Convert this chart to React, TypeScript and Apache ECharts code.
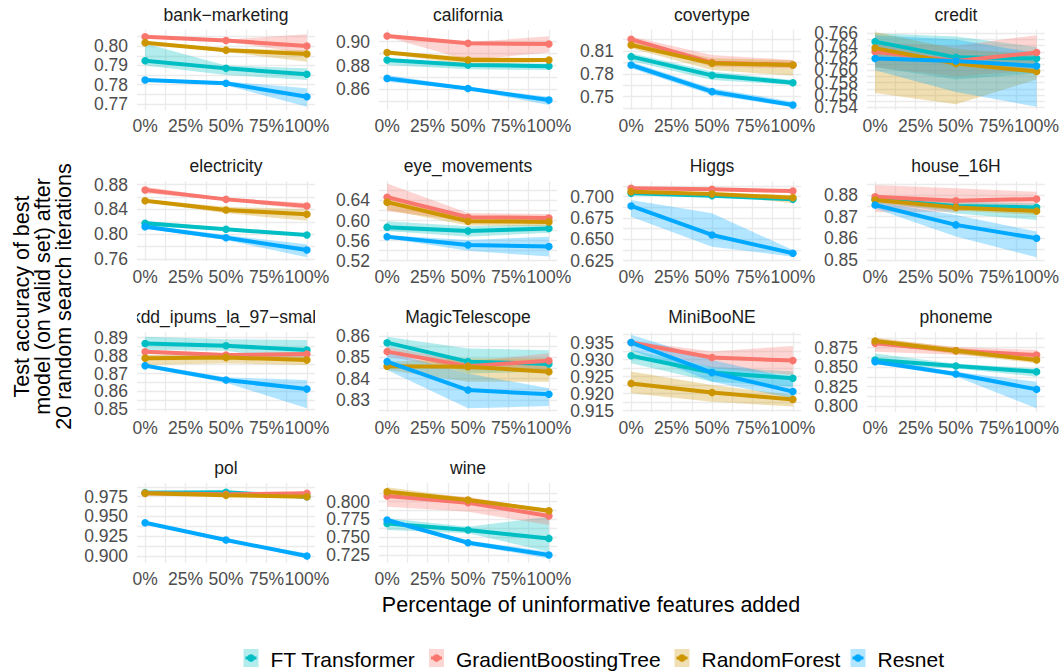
import React, { useEffect, useRef } from 'react';
import * as echarts from 'echarts';

const FONT = '"Liberation Sans", Arial, Helvetica, sans-serif';

// ---------- categories ----------
const models = ['FT Transformer', 'GradientBoostingTree', 'RandomForest', 'Resnet'];
const colors = ['#00BFC4', '#F8766D', '#CD9600', '#00A9FF'];
const pcts = [0, 50, 100];
const xTicks = [0, 25, 50, 75, 100];
const xMinor = [12.5, 37.5, 62.5, 87.5];

// ---------- data: rows = [FT Transformer, GradientBoostingTree, RandomForest, Resnet], cols = 0%, 50%, 100% ----------
const bankMean = [[0.7925, 0.7885, 0.7854], [0.8050, 0.8030, 0.8002], [0.8019, 0.7980, 0.7960], [0.7824, 0.7807, 0.7737]];
const bankLo = [[0.7900, 0.7850, 0.7825], [0.8045, 0.8025, 0.7963], [0.8014, 0.7970, 0.7920], [0.7819, 0.7797, 0.7685]];
const bankHi = [[0.8015, 0.7900, 0.7885], [0.8055, 0.8035, 0.8063], [0.8024, 0.7990, 0.7980], [0.7829, 0.7817, 0.7781]];
const bankTicks = [0.77, 0.78, 0.79, 0.80];

const califMean = [[0.8846, 0.8804, 0.8795], [0.9048, 0.8986, 0.8980], [0.8910, 0.8846, 0.8846], [0.8692, 0.8608, 0.8510]];
const califLo = [[0.8804, 0.8768, 0.8762], [0.9040, 0.8845, 0.8910], [0.8900, 0.8804, 0.8830], [0.8664, 0.8598, 0.8468]];
const califHi = [[0.8860, 0.8820, 0.8818], [0.9056, 0.8995, 0.9045], [0.8920, 0.8874, 0.8860], [0.8720, 0.8618, 0.8538]];
const califTicks = [0.86, 0.88, 0.90];

const coverMean = [[0.8026, 0.7780, 0.7684], [0.8253, 0.7947, 0.7916], [0.8179, 0.7938, 0.7916], [0.7916, 0.7566, 0.7390]];
const coverLo = [[0.7970, 0.7720, 0.7653], [0.8210, 0.7894, 0.7872], [0.8135, 0.7850, 0.7774], [0.7873, 0.7522, 0.7362]];
const coverHi = [[0.8070, 0.7830, 0.7720], [0.8290, 0.8047, 0.7982], [0.8223, 0.8004, 0.7980], [0.7960, 0.7610, 0.7435]];
const coverTicks = [0.75, 0.78, 0.81];

const creditMean = [[0.76465, 0.7621, 0.7619], [0.7630, 0.7615, 0.7629], [0.7636, 0.7611, 0.7598], [0.7619, 0.7615, 0.7607]];
const creditLo = [[0.7605, 0.7585, 0.7595], [0.7605, 0.7590, 0.7600], [0.7563, 0.7545, 0.7585], [0.7600, 0.7565, 0.7541]];
const creditHi = [[0.7660, 0.7655, 0.7638], [0.7645, 0.7640, 0.7657], [0.7662, 0.7635, 0.7625], [0.7657, 0.7650, 0.7628]];
const creditTicks = [0.754, 0.756, 0.758, 0.760, 0.762, 0.764, 0.766];

const elecMean = [[0.8176, 0.8079, 0.7987], [0.8714, 0.8563, 0.8456], [0.8542, 0.8391, 0.8321], [0.8122, 0.7944, 0.7745]];
const elecLo = [[0.8133, 0.8059, 0.7967], [0.8660, 0.8543, 0.8402], [0.8522, 0.8337, 0.8219], [0.8092, 0.7907, 0.7627]];
const elecHi = [[0.8219, 0.8099, 0.8007], [0.8768, 0.8583, 0.8510], [0.8562, 0.8445, 0.8402], [0.8152, 0.7987, 0.7837]];
const elecTicks = [0.76, 0.80, 0.84, 0.88];

const eyeMean = [[0.5869, 0.5790, 0.5843], [0.6466, 0.6066, 0.6052], [0.6367, 0.5987, 0.5974], [0.5679, 0.5515, 0.5482]];
const eyeLo = [[0.5790, 0.5679, 0.5757], [0.6184, 0.5987, 0.5967], [0.6216, 0.5902, 0.5889], [0.5649, 0.5397, 0.5285]];
const eyeHi = [[0.5987, 0.5889, 0.5921], [0.6740, 0.6150, 0.6131], [0.6511, 0.6085, 0.6052], [0.5709, 0.5613, 0.5679]];
const eyeTicks = [0.52, 0.56, 0.60, 0.64];

const higgsMean = [[0.7039, 0.7012, 0.6969], [0.7098, 0.7086, 0.7066], [0.7059, 0.7031, 0.6988], [0.6891, 0.6551, 0.6336]];
const higgsLo = [[0.7024, 0.6997, 0.6954], [0.7088, 0.7076, 0.7056], [0.7049, 0.7021, 0.6922], [0.6766, 0.6414, 0.6297]];
const higgsHi = [[0.7054, 0.7027, 0.6984], [0.7108, 0.7096, 0.7076], [0.7069, 0.7041, 0.7020], [0.6961, 0.6805, 0.6375]];
const higgsTicks = [0.625, 0.650, 0.675, 0.700];

const houseMean = [[0.8780, 0.8749, 0.8743], [0.8792, 0.8774, 0.8782], [0.8777, 0.8743, 0.8726], [0.8754, 0.8662, 0.8600]];
const houseLo = [[0.8770, 0.8715, 0.8685], [0.8720, 0.8723, 0.8754], [0.8762, 0.8728, 0.8708], [0.8738, 0.8608, 0.8512]];
const houseHi = [[0.8790, 0.8769, 0.8762], [0.8846, 0.8831, 0.8815], [0.8792, 0.8758, 0.8746], [0.8769, 0.8708, 0.8631]];
const houseTicks = [0.85, 0.86, 0.87, 0.88];

const kddMean = [[0.8868, 0.8855, 0.8831], [0.8822, 0.8803, 0.8809], [0.8785, 0.8790, 0.8775], [0.8744, 0.8664, 0.8613]];
const kddLo = [[0.8831, 0.8827, 0.8766], [0.8812, 0.8793, 0.8785], [0.8747, 0.8757, 0.8747], [0.8734, 0.8649, 0.8506]];
const kddHi = [[0.8906, 0.8891, 0.8887], [0.8832, 0.8813, 0.8822], [0.8803, 0.8803, 0.8794], [0.8754, 0.8679, 0.8664]];
const kddTicks = [0.85, 0.86, 0.87, 0.88, 0.89];

const magicMean = [[0.8569, 0.8480, 0.8469], [0.8527, 0.8459, 0.8484], [0.8459, 0.8456, 0.8433], [0.8480, 0.8347, 0.8327]];
const magicLo = [[0.8542, 0.8425, 0.8433], [0.8503, 0.8440, 0.8441], [0.8441, 0.8386, 0.8386], [0.8441, 0.8261, 0.8272]];
const magicHi = [[0.8597, 0.8542, 0.8534], [0.8550, 0.8480, 0.8519], [0.8480, 0.8495, 0.8495], [0.8527, 0.8425, 0.8355]];
const magicTicks = [0.83, 0.84, 0.85, 0.86];

const booneMean = [[0.9311, 0.9262, 0.9245], [0.9350, 0.9306, 0.9297], [0.9230, 0.9203, 0.9183], [0.9350, 0.9262, 0.9206]];
const booneLo = [[0.9289, 0.9235, 0.9220], [0.9345, 0.9275, 0.9255], [0.9201, 0.9176, 0.9162], [0.9328, 0.9235, 0.9186]];
const booneHi = [[0.9328, 0.9279, 0.9265], [0.9355, 0.9324, 0.9340], [0.9265, 0.9225, 0.9196], [0.9373, 0.9299, 0.9245]];
const booneTicks = [0.915, 0.920, 0.925, 0.930, 0.935];

const phonMean = [[0.8591, 0.8514, 0.8441], [0.8806, 0.8711, 0.8656], [0.8836, 0.8711, 0.8591], [0.8570, 0.8411, 0.8214]];
const phonLo = [[0.8527, 0.8484, 0.8377], [0.8699, 0.8660, 0.8600], [0.8793, 0.8669, 0.8549], [0.8540, 0.8381, 0.7970]];
const phonHi = [[0.8677, 0.8544, 0.8484], [0.8870, 0.8760, 0.8720], [0.8879, 0.8754, 0.8634], [0.8600, 0.8441, 0.8313]];
const phonTicks = [0.800, 0.825, 0.850, 0.875];

const polMean = [[0.9801, 0.9805, 0.9750], [0.9792, 0.9780, 0.9792], [0.9792, 0.9767, 0.9750], [0.9421, 0.9202, 0.9000]];
const polLo = [[0.9790, 0.9795, 0.9720], [0.9782, 0.9770, 0.9782], [0.9782, 0.9757, 0.9740], [0.9411, 0.9192, 0.8970]];
const polHi = [[0.9830, 0.9815, 0.9780], [0.9802, 0.9790, 0.9802], [0.9802, 0.9777, 0.9760], [0.9431, 0.9212, 0.9034]];
const polTicks = [0.900, 0.925, 0.950, 0.975];

const wineMean = [[0.7695, 0.7601, 0.7484], [0.8080, 0.7986, 0.7798], [0.8141, 0.8023, 0.7873], [0.7742, 0.7423, 0.7250]];
const wineLo = [[0.7601, 0.7555, 0.7297], [0.7930, 0.7859, 0.7672], [0.8070, 0.7993, 0.7853], [0.7712, 0.7393, 0.7203]];
const wineHi = [[0.7766, 0.7648, 0.7789], [0.8141, 0.8070, 0.7883], [0.8202, 0.8053, 0.7893], [0.7772, 0.7453, 0.7297]];
const wineTicks = [0.725, 0.750, 0.775, 0.800];

type Panel = { name: string; mean: number[][]; lo: number[][]; hi: number[][]; ticks: number[]; range: number[]; dec: number };

const panels: Panel[] = [
  { name: 'bank\u2212marketing', mean: bankMean, lo: bankLo, hi: bankHi, ticks: bankTicks, range: [0.7668, 0.8085], dec: 2 },
  { name: 'california', mean: califMean, lo: califLo, hi: califHi, ticks: califTicks, range: [0.8427, 0.9098], dec: 2 },
  { name: 'covertype', mean: coverMean, lo: coverLo, hi: coverHi, ticks: coverTicks, range: [0.7325, 0.8376], dec: 2 },
  { name: 'credit', mean: creditMean, lo: creditLo, hi: creditHi, ticks: creditTicks, range: [0.75356, 0.76654], dec: 3 },
  { name: 'electricity', mean: elecMean, lo: elecLo, hi: elecHi, ticks: elecTicks, range: [0.7567, 0.886], dec: 2 },
  { name: 'eye_movements', mean: eyeMean, lo: eyeLo, hi: eyeHi, ticks: eyeTicks, range: [0.5195, 0.6788], dec: 2 },
  { name: 'Higgs', mean: higgsMean, lo: higgsLo, hi: higgsHi, ticks: higgsTicks, range: [0.6246, 0.7184], dec: 3 },
  { name: 'house_16H', mean: houseMean, lo: houseLo, hi: houseHi, ticks: houseTicks, range: [0.8495, 0.8865], dec: 2 },
  { name: 'kdd_ipums_la_97\u2212small', mean: kddMean, lo: kddLo, hi: kddHi, ticks: kddTicks, range: [0.8485, 0.8932], dec: 2 },
  { name: 'MagicTelescope', mean: magicMean, lo: magicLo, hi: magicHi, ticks: magicTicks, range: [0.8244, 0.8619], dec: 2 },
  { name: 'MiniBooNE', mean: booneMean, lo: booneLo, hi: booneHi, ticks: booneTicks, range: [0.9146, 0.9381], dec: 3 },
  { name: 'phoneme', mean: phonMean, lo: phonLo, hi: phonHi, ticks: phonTicks, range: [0.7923, 0.8952], dec: 3 },
  { name: 'pol', mean: polMean, lo: polLo, hi: polHi, ticks: polTicks, range: [0.8912, 0.9923], dec: 3 },
  { name: 'wine', mean: wineMean, lo: wineLo, hi: wineHi, ticks: wineTicks, range: [0.7138, 0.8263], dec: 3 },
];

// ---------- layout ----------
const COL_LEFT = [137, 379, 623, 867];
const ROW_TOP = [30, 181, 332, 483];
const PANEL_W = 178;
const PANEL_H = 80;
const LEGEND_X = [243.5, 429, 674.5, 850.5];

const rgba = (hex: string, a: number) => {
  const n = parseInt(hex.slice(1), 16);
  return `rgba(${(n >> 16) & 255},${(n >> 8) & 255},${n & 255},${a})`;
};

const gridLine = { show: true, lineStyle: { color: '#EBEBEB', width: 1.3 } };
const tickText = { color: '#4D4D4D', fontSize: 17.5, fontFamily: FONT };

function minorValues(ticks: number[], range: number[]) {
  const step = ticks.length > 1 ? ticks[1] - ticks[0] : 0.01;
  const out: number[] = [];
  for (let v = ticks[0] - step / 2; v <= ticks[ticks.length - 1] + step; v += step) {
    if (v >= range[0] && v <= range[1]) out.push(+v.toFixed(6));
  }
  return out;
}

function buildOption() {
  const grid: any[] = [];
  const xAxis: any[] = [];
  const yAxis: any[] = [];
  const yAxisAlt: any[] = [];
  const series: any[] = [];
  const graphic: any[] = [];

  panels.forEach((p, pi) => {
    const col = pi % 4;
    const row = Math.floor(pi / 4);
    grid.push({ left: COL_LEFT[col], top: ROW_TOP[row], width: PANEL_W, height: PANEL_H, containLabel: false });
    xAxis.push({
      type: 'value', gridIndex: pi, min: -5, max: 105,
      axisLine: { show: false },
      axisTick: { show: false, customValues: [...xTicks, ...xMinor].sort((a, b) => a - b) },
      axisLabel: {
        ...tickText, customValues: xTicks, margin: 7, interval: 0,
        showMinLabel: true, showMaxLabel: true, hideOverlap: false,
        formatter: (v: number) => `${v}%`,
      },
      splitLine: gridLine,
    });
    const minors = minorValues(p.ticks, p.range);
    const evenTicks = p.ticks.filter((_, i) => i % 2 === 0);
    const oddTicks = p.ticks.filter((_, i) => i % 2 === 1);
    // primary axis: grid lines + every other label
    yAxis.push({
      type: 'value', gridIndex: pi, position: 'left', min: p.range[0], max: p.range[1],
      axisLine: { show: false },
      axisTick: { show: false, customValues: [...p.ticks, ...minors].sort((a, b) => a - b) },
      axisLabel: {
        ...tickText, customValues: evenTicks, margin: 9, interval: 0,
        showMinLabel: true, showMaxLabel: true, hideOverlap: false,
        formatter: (v: number) => v.toFixed(p.dec),
      },
      splitLine: gridLine,
    });
    // companion axis on the same side: the remaining labels (keeps tightly-packed labels from being dropped)
    yAxisAlt.push({
      type: 'value', gridIndex: pi, position: 'left', offset: 0, min: p.range[0], max: p.range[1],
      axisLine: { show: false },
      axisTick: { show: false, customValues: oddTicks.length ? oddTicks : [p.ticks[0]] },
      axisLabel: {
        ...tickText, show: oddTicks.length > 0, customValues: oddTicks.length ? oddTicks : [p.ticks[0]], margin: 9, interval: 0,
        showMinLabel: true, showMaxLabel: true, hideOverlap: false,
        formatter: (v: number) => v.toFixed(p.dec),
      },
      splitLine: { show: false },
    });
    // strip title
    graphic.push({
      type: 'text', x: COL_LEFT[col] + PANEL_W / 2, y: ROW_TOP[row] - 15.5, z: 10,
      style: { text: p.name, align: 'center', verticalAlign: 'middle', fontSize: 17.5, fontFamily: FONT, fill: '#1A1A1A' },
    });
  });

  // ribbons first
  panels.forEach((p, pi) => {
    models.forEach((m, mi) => {
      series.push({
        type: 'custom', xAxisIndex: pi, yAxisIndex: pi, z: 1, silent: true, clip: true,
        data: pcts.map((x, k) => [x, p.lo[mi][k], p.hi[mi][k]]),
        encode: { x: 0, y: [1, 2] },
        renderItem: (params: any, api: any) => {
          if (params.dataIndex !== 0) return null;
          const lower = pcts.map((x, k) => api.coord([x, p.lo[mi][k]]));
          const upper = pcts.map((x, k) => api.coord([x, p.hi[mi][k]])).reverse();
          return {
            type: 'polygon',
            shape: { points: lower.concat(upper) },
            style: { fill: rgba(colors[mi], 0.3), stroke: 'none' },
          };
        },
      });
    });
  });

  // lines + points
  panels.forEach((p, pi) => {
    models.forEach((m, mi) => {
      series.push({
        type: 'line', name: m, xAxisIndex: pi, yAxisIndex: pi, z: 3, silent: true,
        data: pcts.map((x, k) => [x, p.mean[mi][k]]),
        symbol: 'circle', symbolSize: 7.5, showSymbol: true,
        lineStyle: { color: colors[mi], width: 4 },
        itemStyle: { color: colors[mi], borderWidth: 0 },
      });
    });
  });

  // clip the overflowing strip title (kdd) like ggplot's strip
  const kddIdx = 8;
  const kc = kddIdx % 4;
  const kr = Math.floor(kddIdx / 4);
  graphic.push({ type: 'rect', z: 20, shape: { x: COL_LEFT[kc] - 30, y: ROW_TOP[kr] - 28, width: 30, height: 25 }, style: { fill: '#FFFFFF' } });
  graphic.push({ type: 'rect', z: 20, shape: { x: COL_LEFT[kc] + PANEL_W, y: ROW_TOP[kr] - 28, width: 30, height: 25 }, style: { fill: '#FFFFFF' } });

  // axis titles
  graphic.push({
    type: 'text', x: (COL_LEFT[0] + COL_LEFT[3] + PANEL_W) / 2, y: 605, z: 10,
    style: { text: 'Percentage of uninformative features added', align: 'center', verticalAlign: 'middle', fontSize: 21.5, fontFamily: FONT, fill: '#000000' },
  });
  graphic.push({
    type: 'text', x: 43, y: (ROW_TOP[0] + ROW_TOP[3] + PANEL_H) / 2, rotation: Math.PI / 2, z: 10,
    style: {
      text: 'Test accuracy of best\nmodel (on valid set) after\n20 random search iterations',
      align: 'center', verticalAlign: 'middle', fontSize: 21.5, lineHeight: 21, fontFamily: FONT, fill: '#000000',
    },
  });

  // legend
  models.forEach((m, mi) => {
    const x = LEGEND_X[mi];
    const y = 649;
    graphic.push({
      type: 'group', x, y, z: 10,
      children: [
        { type: 'rect', shape: { x: 0, y: 0, width: 15, height: 18 }, style: { fill: rgba(colors[mi], 0.3) } },
        { type: 'line', shape: { x1: 2, y1: 9, x2: 13, y2: 9 }, style: { stroke: colors[mi], lineWidth: 3 } },
        { type: 'circle', shape: { cx: 7.5, cy: 9, r: 3.8 }, style: { fill: colors[mi] } },
        { type: 'text', x: 27, y: 10, style: { text: m, verticalAlign: 'middle', fontSize: 21, fontFamily: FONT, fill: '#000000' } },
      ],
    });
  });

  return {
    animation: false,
    backgroundColor: '#FFFFFF',
    textStyle: { fontFamily: FONT },
    grid, xAxis, yAxis: [...yAxis, ...yAxisAlt], series, graphic,
  };
}

export default function App() {
  const ref = useRef<HTMLDivElement>(null);
  useEffect(() => {
    if (!ref.current) return;
    const chart = echarts.init(ref.current, undefined, { renderer: 'svg' });
    chart.setOption(buildOption() as any);
    return () => chart.dispose();
  }, []);
  return <div ref={ref} style={{ position: 'absolute', left: 0, top: 0, width: 1062, height: 672, background: '#fff' }} />;
}
